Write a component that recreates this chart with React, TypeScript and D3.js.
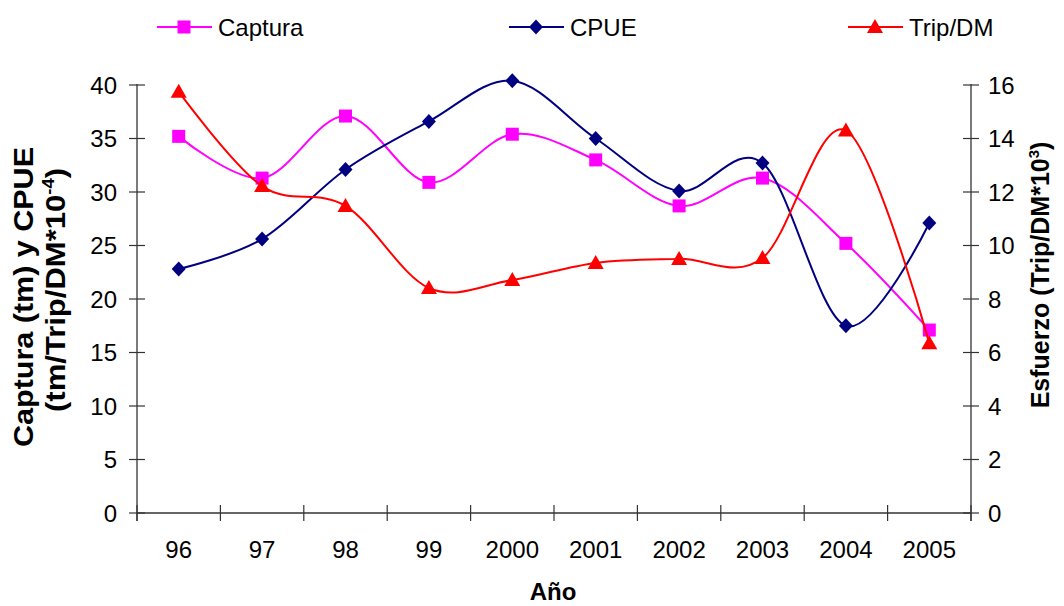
import React from "react";
import * as d3 from "d3";

const years = ["96", "97", "98", "99", "2000", "2001", "2002", "2003", "2004", "2005"];
const captura = [35.2, 31.3, 37.1, 30.9, 35.4, 33.0, 28.7, 31.3, 25.2, 17.1];
const cpue = [22.8, 25.6, 32.1, 36.6, 40.4, 35.0, 30.1, 32.7, 17.5, 27.1];
const tripDM = [15.75, 12.22, 11.48, 8.41, 8.71, 9.35, 9.5, 9.53, 14.3, 6.35];
const leftTicks = [0, 5, 10, 15, 20, 25, 30, 35, 40];
const rightTicks = [0, 2, 4, 6, 8, 10, 12, 14, 16];

const W = 1064, H = 606;
const X0 = 137, X1 = 971, Y0 = 513, Y1 = 85;
const FONT = "Arial, 'Liberation Sans', sans-serif";

function Marker({ type, x, y, color }: { type: string; x: number; y: number; color: string }) {
  if (type === "square") return <rect x={x - 6.5} y={y - 6.5} width={13} height={13} fill={color} />;
  if (type === "diamond") return <path d={`M${x},${y - 7.5}L${x + 7},${y}L${x},${y + 7.5}L${x - 7},${y}Z`} fill={color} />;
  return <path d={`M${x},${y - 8}L${x + 8},${y + 6}L${x - 8},${y + 6}Z`} fill={color} />;
}

export default function App() {
  const x = d3.scaleBand<string>().domain(years).range([X0, X1]);
  const cx = (i: number) => (x(years[i]) as number) + x.bandwidth() / 2;
  const yL = d3.scaleLinear().domain([0, 40]).range([Y0, Y1]);
  const yR = d3.scaleLinear().domain([0, 16]).range([Y0, Y1]);
  const curve = d3.curveCardinal.tension(0);

  const series = [
    { name: "Captura", data: captura, scale: yL, color: "#FF00FF", marker: "square", lx: 157 },
    { name: "CPUE", data: cpue, scale: yL, color: "#000080", marker: "diamond", lx: 509 },
    { name: "Trip/DM", data: tripDM, scale: yR, color: "#FF0000", marker: "triangle", lx: 848 },
  ];

  const axisColor = "#333";
  const bounds = years.map((_, i) => x(years[i]) as number).concat([X1]);

  return (
    <svg width={W} height={H} style={{ display: "block", position: "absolute", left: 0, top: 0 }} fontFamily={FONT}>
      <rect width={W} height={H} fill="#fff" />
      {/* axes */}
      <line x1={X0} x2={X1} y1={Y0} y2={Y0} stroke={axisColor} strokeWidth={1.3} />
      <line x1={X0} x2={X0} y1={Y1 - 1} y2={Y0 + 8} stroke={axisColor} strokeWidth={1.3} />
      <line x1={X1} x2={X1} y1={Y1 - 1} y2={Y0 + 8} stroke={axisColor} strokeWidth={1.3} />
      {bounds.map((b, i) => (
        <line key={"xt" + i} x1={b} x2={b} y1={Y0 - 8} y2={Y0 + 8} stroke={axisColor} strokeWidth={1.2} />
      ))}
      {leftTicks.map((t) => (
        <g key={"lt" + t}>
          <line x1={X0 - 8} x2={X0 + 8} y1={yL(t)} y2={yL(t)} stroke={axisColor} strokeWidth={1.2} />
          <text x={117} y={yL(t) + 8.5} textAnchor="end" fontSize={24} fill="#000">{t}</text>
        </g>
      ))}
      {rightTicks.map((t) => (
        <g key={"rt" + t}>
          <line x1={X1 - 8} x2={X1 + 8} y1={yR(t)} y2={yR(t)} stroke={axisColor} strokeWidth={1.2} />
          <text x={988} y={yR(t) + 8.5} textAnchor="start" fontSize={24} fill="#000">{t}</text>
        </g>
      ))}
      {years.map((yv, i) => (
        <text key={"xl" + yv} x={cx(i)} y={558} textAnchor="middle" fontSize={24} fill="#000">{yv}</text>
      ))}
      <text x={553} y={600} textAnchor="middle" fontSize={24} fontWeight="bold" fill="#000">Año</text>
      {/* left title */}
      <g transform="translate(23,297) rotate(-90)">
        <text x={0} y={0} dy="0.36em" textAnchor="middle" fontSize={27} fontWeight="bold" fill="#000"
          textLength={300} lengthAdjust="spacingAndGlyphs">Captura (tm) y CPUE</text>
      </g>
      <g transform="translate(55,290) rotate(-90)">
        <text x={0} y={0} dy="0.36em" textAnchor="middle" fontSize={27} fontWeight="bold" fill="#000"
          textLength={244} lengthAdjust="spacingAndGlyphs">
          (tm/Trip/DM*10<tspan fontSize={16} dy="-11">-4</tspan><tspan dy="11">)</tspan>
        </text>
      </g>
      {/* right title */}
      <g transform="translate(1040,275) rotate(-90)">
        <text x={0} y={0} dy="0.36em" textAnchor="middle" fontSize={25} fontWeight="bold" fill="#000">
          Esfuerzo (Trip/DM*10<tspan fontSize={15} dy="-10">3</tspan><tspan dy="10">)</tspan>
        </text>
      </g>
      {/* series */}
      {series.map((s) => {
        const line = d3.line<number>().x((_, i) => cx(i)).y((v) => s.scale(v)).curve(curve);
        return (
          <g key={s.name}>
            <path d={line(s.data) as string} fill="none" stroke={s.color} strokeWidth={2} />
            {s.data.map((v, i) => (
              <Marker key={i} type={s.marker} x={cx(i)} y={s.scale(v)} color={s.color} />
            ))}
          </g>
        );
      })}
      {/* legend */}
      {series.map((s) => (
        <g key={"lg" + s.name}>
          <line x1={s.lx} x2={s.lx + 55} y1={27} y2={27} stroke={s.color} strokeWidth={2} />
          <Marker type={s.marker} x={s.lx + 27} y={27} color={s.color} />
          <text x={s.lx + 61} y={36} fontSize={24} fill="#000">{s.name}</text>
        </g>
      ))}
    </svg>
  );
}
